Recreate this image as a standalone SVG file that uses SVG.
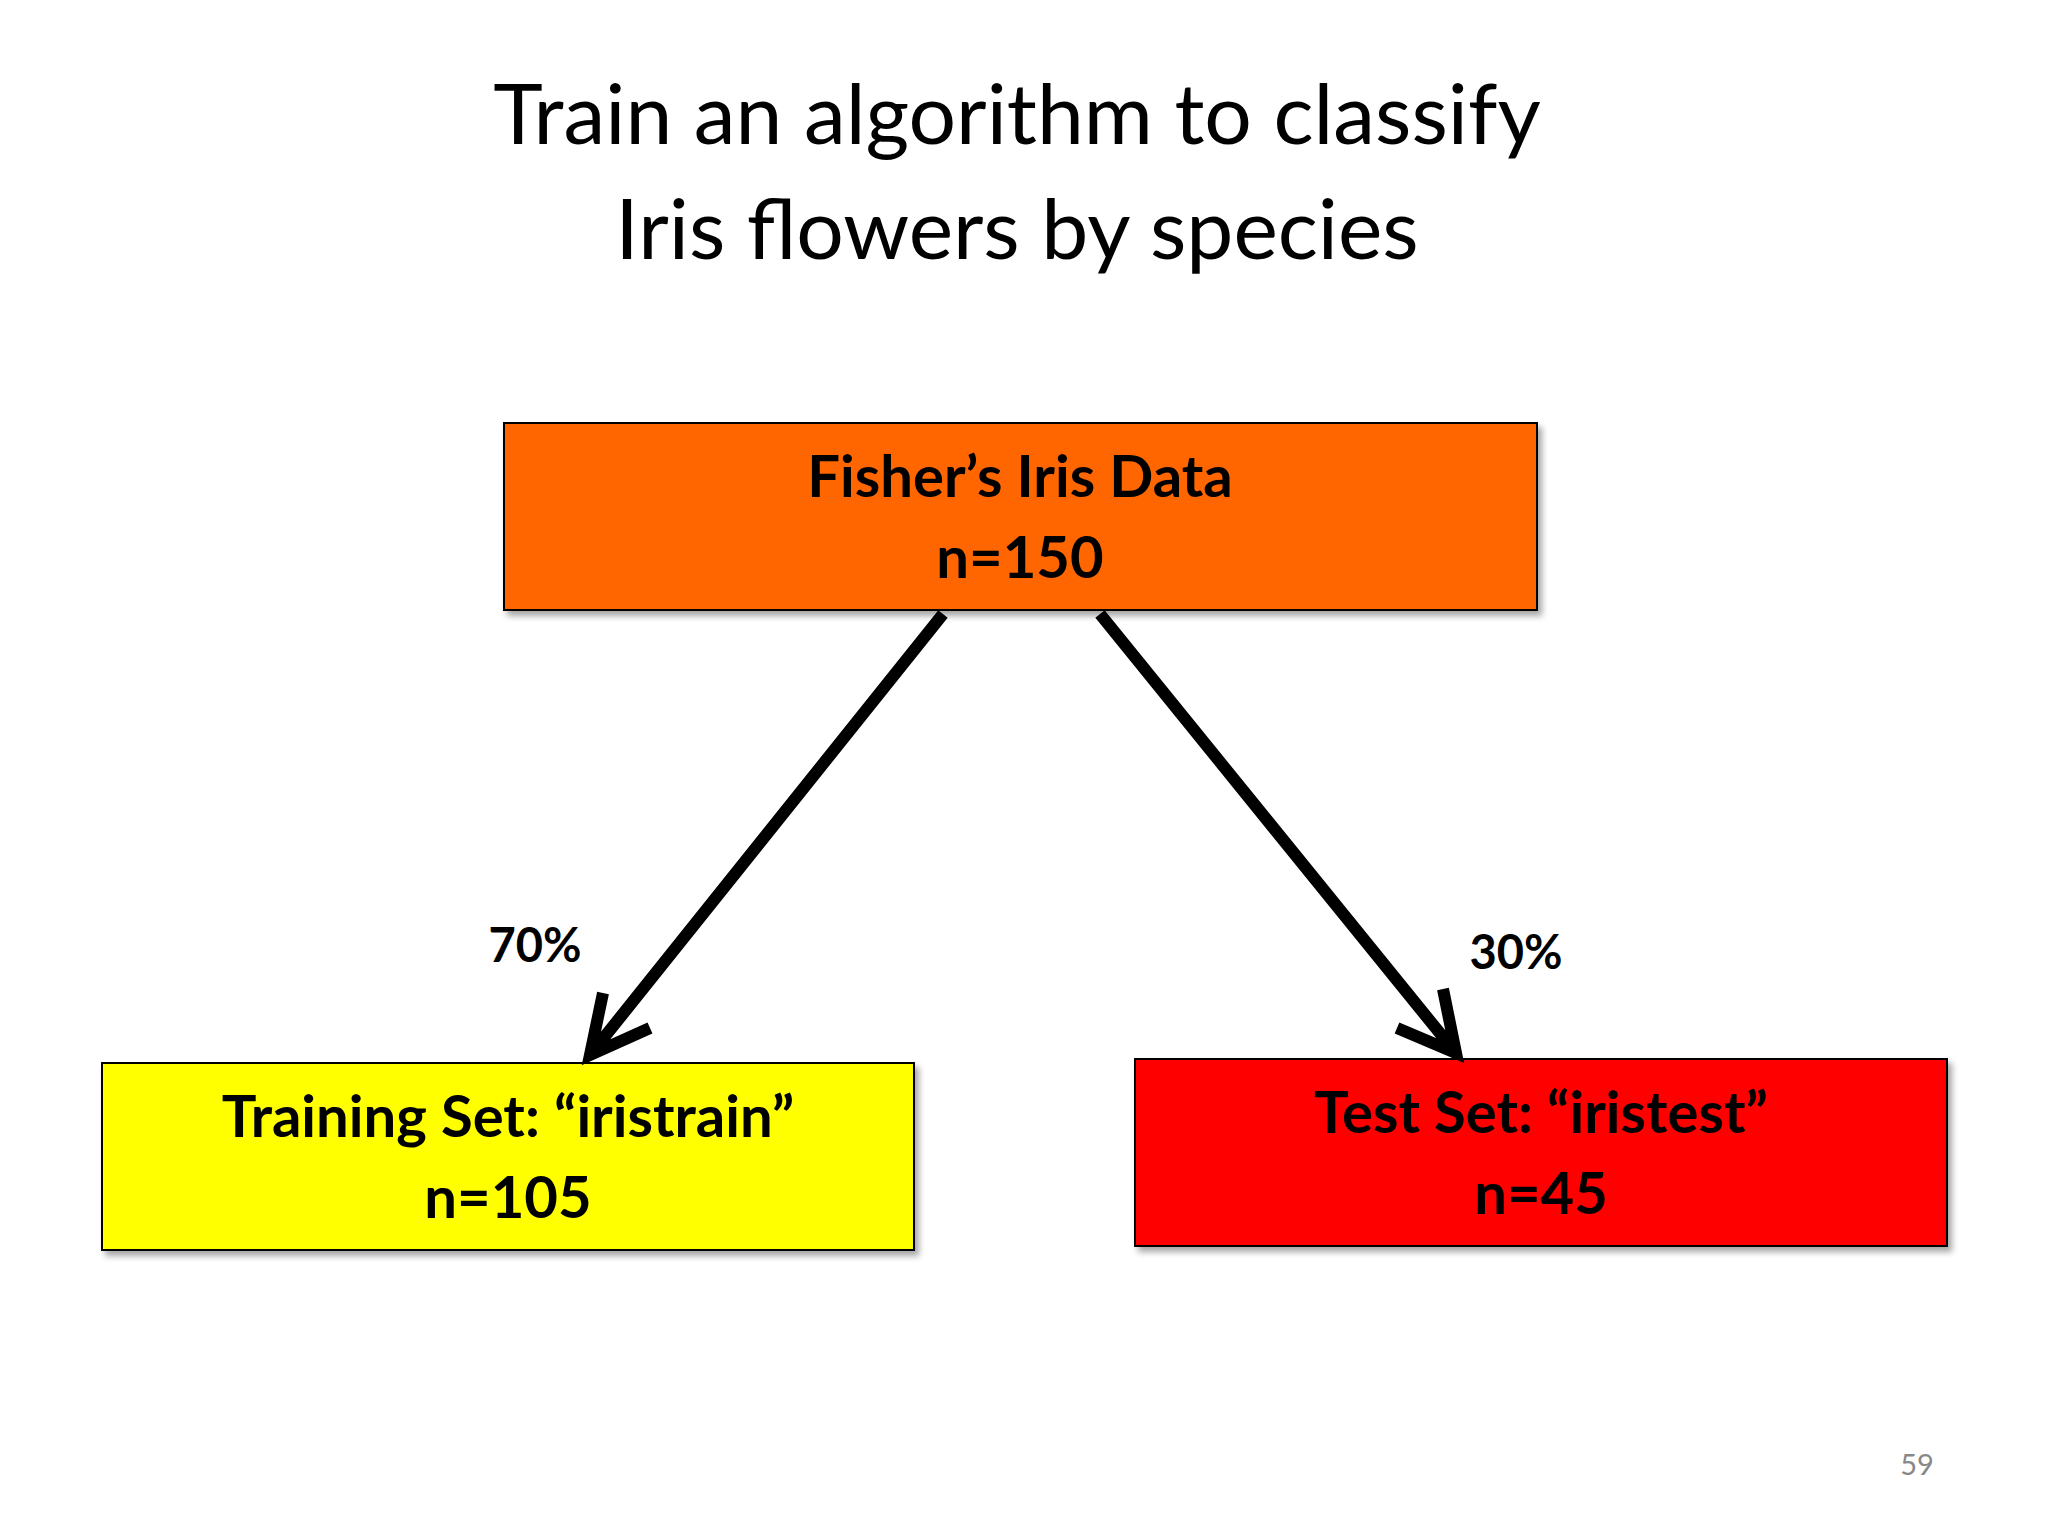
<svg xmlns="http://www.w3.org/2000/svg" width="2048" height="1536" viewBox="0 0 2048 1536">
<style>
.t{font-family:Lato,"Open Sans","Liberation Sans",sans-serif;text-anchor:middle;fill:#000}
.n{font-weight:bold;font-size:58px}
.box{stroke:#000;stroke-width:2}
.c{stroke:#000;stroke-width:12;fill:none;stroke-linecap:butt;stroke-linejoin:miter}
</style>
<defs><filter id="sh" x="-5%" y="-5%" width="115%" height="125%"><feDropShadow dx="4" dy="5" stdDeviation="3" flood-color="#000" flood-opacity="0.35"/></filter></defs>
<rect width="2048" height="1536" fill="#fff"/>
<text class="t" x="1017" y="144" font-size="84">Train an algorithm to classify</text>
<text class="t" x="1017" y="259" font-size="84">Iris flowers by species</text>
<g id="fisher"><rect class="box" x="504" y="423" width="1033" height="187" fill="#FF6600" filter="url(#sh)"/>
<text class="t n" x="1020" y="497">Fisher’s Iris Data</text><text class="t n" x="1020" y="578">n=150</text></g>
<g id="train"><rect class="box" x="102" y="1063" width="812" height="187" fill="#FFFF00" filter="url(#sh)"/>
<text class="t n" x="508" y="1137">Training Set: “iristrain”</text><text class="t n" x="508" y="1218">n=105</text></g>
<g id="test"><rect class="box" x="1135" y="1059" width="812" height="187" fill="#FF0000" filter="url(#sh)"/>
<text class="t n" x="1541" y="1133">Test Set: “iristest”</text><text class="t n" x="1541" y="1214">n=45</text></g>
<g id="connectors">
<path class="c" d="M943 614 L590 1055 M603 993 L590 1055 L650 1028"/>
<path class="c" d="M1100 614 L1456 1053 M1443 989 L1456 1053 L1397 1028"/>
<text class="t" x="535" y="962" font-size="47" font-weight="bold">70%</text>
<text class="t" x="1516" y="969" font-size="47" font-weight="bold">30%</text>
</g>
<text class="t" x="1917" y="1475" font-size="29" fill="#888" style="fill:#888">59</text>
</svg>
